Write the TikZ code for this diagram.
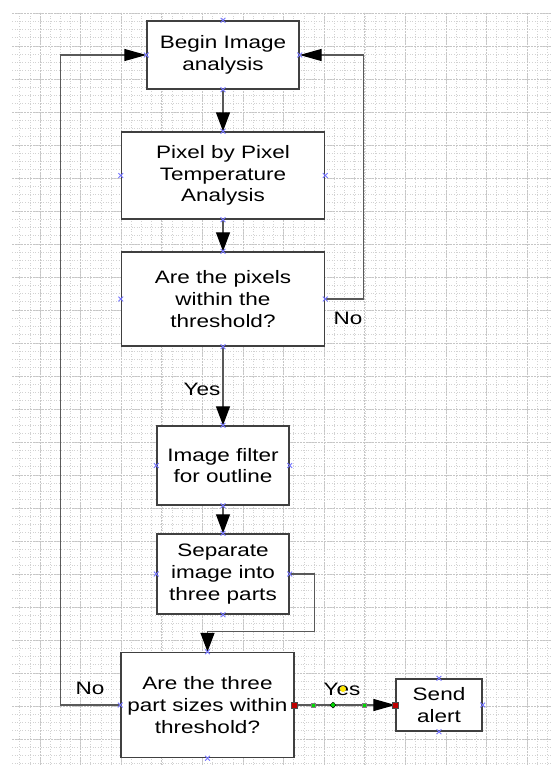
\documentclass[tikz,border=0pt]{standalone}
\usepackage{fontspec}
\setmainfont{Liberation Sans}[FakeStretch=1.25]
\usetikzlibrary{arrows.meta}
\usetikzlibrary{shapes.misc}
\usetikzlibrary{shapes.geometric}

\begin{document}
\begin{tikzpicture}
[x=1pt, y=-1pt,
every node/.style={inner sep=0pt, font=\fontsize{18pt}{21.6pt}\selectfont},
box/.style={rectangle, draw=black!75, line width=1.4pt, fill=white, align=center},
flow/.style={line width=1.3pt, draw=black!65, -{Triangle[length=19pt, width=14pt, color=black]}},
sideflow/.style={line width=1.3pt, draw=black!65, -{Triangle[length=22pt, width=12pt, color=black]}},
minorgrid/.style={draw=gray!35, line width=0.6pt, dotted},
majorgrid/.style={draw=gray!45, line width=0.7pt, dash pattern=on 2pt off 1pt},
handle/.style={cross out, draw=blue!55, line width=0.8pt, minimum size=4pt},
endmark/.style={rectangle, fill=red!75!black, draw=black!70, line width=0.5pt, minimum size=6pt},
midmark/.style={rectangle, fill=green!85!black, draw=black!50, line width=0.4pt, minimum size=4.5pt}]
\useasboundingbox (0,0) rectangle (551,765);
% background grid
\begin{scope}[shift={(40,13)}]
\draw [minorgrid, xstep=10.15pt, ystep=8.25pt] (-28,-1) grid (511,752);
\draw [majorgrid, xstep=40.6pt, ystep=33pt] (-28,-1) grid (511,752);
\end{scope}
% steps
\node (begin) [box, minimum width=152pt, minimum height=68pt] at (223, 55) {Begin Image\\analysis};
\node (pixel) [box, minimum width=203pt, minimum height=87pt] at (223, 175.5) {Pixel by Pixel\\Temperature\\Analysis};
\node (thresh) [box, minimum width=203pt, minimum height=94pt] at (223, 299) {Are the pixels\\within the\\threshold?};
\node (filter) [box, minimum width=132pt, minimum height=79pt] at (223, 465.5) {Image filter\\for outline};
\node (separate) [box, minimum width=132pt, minimum height=80pt] at (223, 574) {Separate\\image into\\three parts};
\node (parts) [box, minimum width=173pt, minimum height=105pt] at (207.5, 705) {Are the three\\part sizes within\\threshold?};
\node (alert) [box, minimum width=86pt, minimum height=52pt] at (439, 705) {Send\\alert};
% connectors
\draw [flow] (begin) -- (pixel);
\draw [flow] (pixel) -- (thresh);
\draw [flow] (thresh) -- (filter);
\draw [flow] (filter) -- (separate);
\draw [flow] (separate.east) -- ++(25,0) |- ([yshift=20pt]parts.north) -- (parts.north);
\draw [sideflow] (thresh.east) -- ++(38,0) |- (begin.east);
\draw [sideflow] (parts.west) -- ++(-60,0) |- (begin.west);
\draw [sideflow] (parts) -- (alert);
% labels
\node (yesdown) at (202, 389) {Yes};
\node (noright) at (348, 318) {No};
\node (noleft) at (90, 688) {No};
\node (yesalert) at (342, 689) {Yes};
% handles
\foreach \n in {begin,pixel,thresh,filter,separate,parts,alert}
  \foreach \a in {north,south,east,west}
    \node (\n-\a) [handle] at (\n.\a) {};
\node (partsend) [endmark] at (parts.east) {};
\node (alertend) [endmark] at (alert.west) {};
\node (greenA) [midmark] at (313, 705) {};
\node (greenB) [midmark] at (364, 705) {};
\node (greenmid) [diamond, fill=green!85!black, draw=black, line width=0.5pt, minimum size=6pt] at (333, 705) {};
\node (yellowdot) [circle, fill=yellow!90!orange, minimum size=6pt] at (343, 689) {};
\end{tikzpicture}
\end{document}
